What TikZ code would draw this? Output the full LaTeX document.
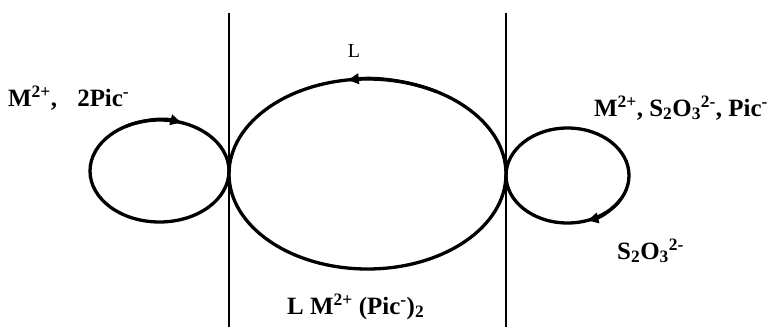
\documentclass[tikz,border=0pt]{standalone}
\usepackage{fontspec}
\setmainfont{Liberation Serif}
\usetikzlibrary{arrows.meta}
\begin{document}
\begin{tikzpicture}[x=1bp,y=1bp,
  loopline/.style={line width=3.3bp},
  wall/.style={line width=2bp},
  tipline/.style={line width=3.3bp,-{Latex[length=13bp,width=12bp]}},
  lab/.style={font=\bfseries\fontsize{25}{30}\selectfont, anchor=base west, inner sep=0pt},
]
\useasboundingbox (0,0) rectangle (768,327);
% membrane walls
\coordinate (w1t) at (229,314);
\coordinate (w1b) at (229,0);
\coordinate (w2t) at (506,314);
\coordinate (w2b) at (506,0);
\draw[wall] (w1t) -- (w1b);
\draw[wall] (w2t) -- (w2b);
% loops
\coordinate (cl) at (159.5,156);
\coordinate (cm) at (367.5,153);
\coordinate (cr) at (567.5,151.5);
\draw[loopline] (cl) ellipse[x radius=69.5, y radius=51];
\draw[loopline] (cm) ellipse[x radius=138.5, y radius=95];
\draw[loopline] (cr) ellipse[x radius=61.5, y radius=47.5];
% arrow heads
\draw[tipline] (cl) ++(120:69.5 and 51) arc[start angle=120, end angle=70, x radius=69.5, y radius=51];
\draw[tipline] (cm) ++(60:138.5 and 95) arc[start angle=60, end angle=99, x radius=138.5, y radius=95];
\draw[tipline] (cr) ++(330:61.5 and 47.5) arc[start angle=330, end angle=287, x radius=61.5, y radius=47.5];
% labels
\node[lab] (lefttxt) at (8,221) {M\textsuperscript{2+},\hspace{14bp} 2Pic\textsuperscript{-}};
\node[lab] (righttxt) at (594,211) {M\textsuperscript{2+}, S\textsubscript{2}O\textsubscript{3}\textsuperscript{2-}, Pic\textsuperscript{-}};
\node[lab] (thio) at (617,68) {S\textsubscript{2}O\textsubscript{3}\textsuperscript{2-}};
\node[lab] (complex) at (287,13) {L M\textsuperscript{2+} (Pic\textsuperscript{-})\textsubscript{2}};
\node[font=\fontsize{20}{24}\selectfont, anchor=base, inner sep=0pt] (ltxt) at (354,270) {L};
\end{tikzpicture}
\end{document}
